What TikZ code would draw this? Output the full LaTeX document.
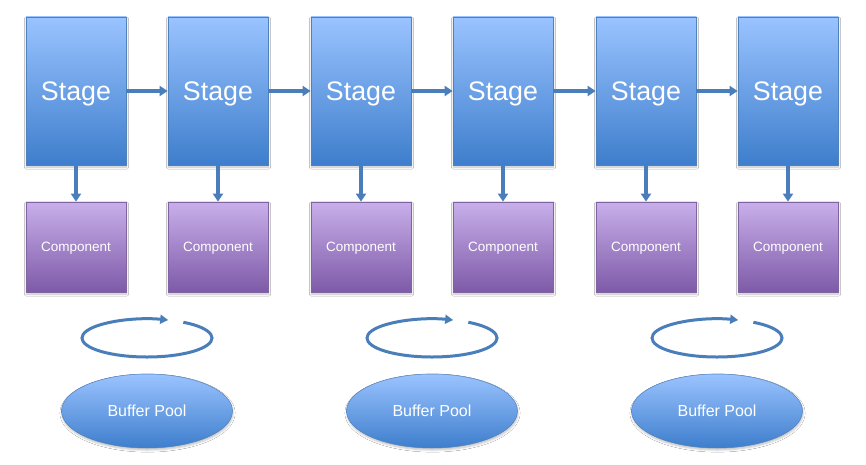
\documentclass[tikz,border=0pt]{standalone}
\usepackage{fontspec}
\setmainfont{Liberation Sans}
\usetikzlibrary{arrows.meta,shadows.blur,shapes.geometric,calc}
\definecolor{stagetop}{HTML}{9AC3FF}
\definecolor{stagebot}{HTML}{3E7ECC}
\definecolor{stageedge}{HTML}{4F81BD}
\definecolor{comptop}{HTML}{C8AFEA}
\definecolor{compbot}{HTML}{7E5AA8}
\definecolor{compedge}{HTML}{8064A2}
\definecolor{arrowcol}{HTML}{4A7EBB}
\tikzset{
  stagebox/.style={draw=stageedge, line width=0.8pt, top color=stagetop, bottom color=stagebot,
    minimum width=100pt, minimum height=148pt, inner sep=0pt, text=white,
    font=\fontsize{26.8}{30}\selectfont, text height=25.6pt, text depth=5.6pt,
    blur shadow={shadow xshift=0.5pt, shadow yshift=-2pt, shadow blur steps=4, shadow opacity=25}},
  compbox/.style={draw=compedge, line width=0.8pt, top color=comptop, bottom color=compbot,
    minimum width=100pt, minimum height=90pt, inner sep=0pt, text=white,
    font=\fontsize{13.5}{16}\selectfont, text height=11.7pt, text depth=2.8pt,
    blur shadow={shadow xshift=0.5pt, shadow yshift=-2pt, shadow blur steps=4, shadow opacity=25}},
  poolnode/.style={ellipse, draw=stageedge, line width=0.5pt, top color=stagetop, bottom color=stagebot,
    minimum width=171pt, minimum height=74pt, inner sep=0pt, text=white,
    font=\fontsize{16}{19}\selectfont,
    blur shadow={shadow xshift=0.5pt, shadow yshift=-2pt, shadow blur steps=4, shadow opacity=25}},
  conn/.style={draw=arrowcol, line width=3.4pt, -{Triangle[length=8pt,width=10pt]}},
  loopline/.style={draw=arrowcol, line width=3pt, -{Triangle[length=8pt,width=9pt]}},
}
\begin{document}
\begin{tikzpicture}[x=1pt,y=1pt]
\useasboundingbox (0,0) rectangle (866,-465);
\fill[white] (0,0) rectangle (866,-465);
\foreach \i/\x in {1/76,2/218,3/361,4/503,5/646,6/788}{
  \node[stagebox] (s\i) at (\x,-91) {Stage};
  \node[compbox] (c\i) at (\x,-247) {Component};
}
\foreach \i/\x in {1/147,2/432,3/717}{
  \node[poolnode] (p\i) at (\x,-411) {Buffer Pool};
  \coordinate (l\i) at (\x,-338);
  \draw[loopline] ($(l\i)+(56:65pt and 19pt)$) arc[start angle=56, end angle=-289, x radius=65pt, y radius=19pt];
}
\foreach \a/\b in {1/2,2/3,3/4,4/5,5/6}{
  \draw[conn] (s\a.east) -- (s\b.west);
}
\foreach \i in {1,...,6}{
  \draw[conn] (s\i.south) -- (c\i.north);
}
\end{tikzpicture}
\end{document}
